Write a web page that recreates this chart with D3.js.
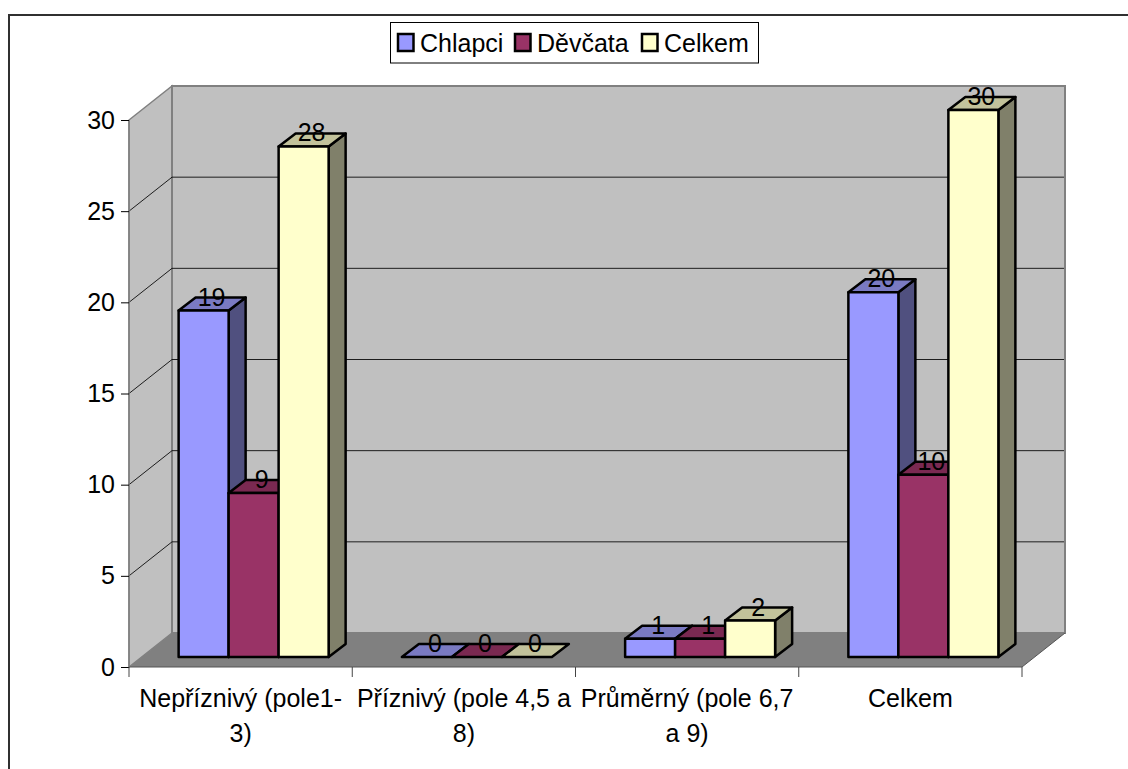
<!DOCTYPE html>
<html>
<head>
<meta charset="utf-8">
<script src="https://cdn.jsdelivr.net/npm/d3@7"></script>
<style>
  html, body { margin: 0; padding: 0; background: #fff; overflow: hidden; }
  text { font-family: "Liberation Sans", Arial, sans-serif; fill: #000; }
</style>
</head>
<body>
<svg id="chart" width="1128" height="769"></svg>
<script>
// values
const categories = ["Nepříznivý (pole1-3)", "Příznivý (pole 4,5 a 8)", "Průměrný (pole 6,7 a 9)", "Celkem"];
const categoryLines = [["Nepříznivý (pole1-", "3)"], ["Příznivý (pole 4,5 a", "8)"], ["Průměrný (pole 6,7", "a 9)"], ["Celkem"]];
const seriesNames = ["Chlapci", "Děvčata", "Celkem"];
const chlapci = [19, 0, 1, 20];
const devcata = [9, 0, 1, 10];
const celkem = [28, 0, 2, 30];
const seriesValues = [chlapci, devcata, celkem];
const yTicks = [0, 5, 10, 15, 20, 25, 30];

// settings
const fills = ["#9999ff", "#993366", "#ffffcc"];
const tops = ["#7a7ac2", "#7a2951", "#c2c29b"];
const sides = ["#50507f", "#50223a", "#80806a"];
const depth = { x: 43, y: 34 };     // floor depth of the fake 3d box
const barDepth = { x: 17, y: 13 };  // depth of a single bar
const barInset = { x: 13, y: 10 };  // bar front sits this far behind the axis plane
const fontSize = 25;

const x = d3.scaleBand().domain(categories).range([129, 1022]);
const y = d3.scaleLinear().domain([0, 30]).range([667, 120]);
const xInner = d3.scaleBand().domain(d3.range(seriesNames.length)).range([0, 150]);

const svg = d3.select("#chart");
const poly = pts => pts.map(p => p.join(",")).join(" ");
const x0 = x.range()[0], x1 = x.range()[1];

// outer frame, only top and left are inside the picture
svg.append("path").attr("d", "M9,769V15H1128")
  .attr("fill", "none").attr("stroke", "#303030").attr("stroke-width", 2);

// walls
svg.append("polygon").attr("points", poly([[x0, y(30)], [x0 + depth.x, y(30) - depth.y], [x0 + depth.x, y(0) - depth.y], [x0, y(0)]]))
  .attr("fill", "#c0c0c0").attr("stroke", "#808080").attr("stroke-width", 1.5);
svg.append("rect").attr("x", x0 + depth.x).attr("y", y(30) - depth.y)
  .attr("width", x1 - x0).attr("height", y(0) - y(30))
  .attr("fill", "#c0c0c0").attr("stroke", "#808080").attr("stroke-width", 2);
svg.append("polygon").attr("points", poly([[x0, y(0)], [x0 + depth.x, y(0) - depth.y], [x1 + depth.x, y(0) - depth.y], [x1, y(0)]]))
  .attr("fill", "#808080");

// gridlines along side wall and back wall
const grid = svg.append("g").attr("stroke", "#000").attr("fill", "none");
yTicks.filter(d => d > 0 && d < 30).forEach(d => {
  grid.append("path")
    .attr("d", `M${x0},${y(d)}L${x0 + depth.x},${y(d) - depth.y}H${x1 + depth.x - 1}`)
    .attr("stroke-opacity", 0.85);
});

// axes
svg.append("path").attr("d", `M${x0},${y(30)}V${y(0)}`).attr("stroke", "#808080").attr("stroke-width", 1.5);
svg.append("path").attr("d", `M${x0},${y(0)}H${x1}L${x1 + depth.x},${y(0) - depth.y}`).attr("stroke", "#555").attr("fill", "none").attr("stroke-width", 1);

const yAxis = svg.append("g").attr("transform", `translate(${x0},0)`)
  .call(d3.axisLeft(y).tickValues(yTicks).tickSize(8).tickPadding(6));
yAxis.select(".domain").remove();
yAxis.selectAll("line").attr("stroke", "#000");
yAxis.selectAll("text").style("font-size", fontSize + "px");

// category ticks and wrapped labels
const tickPos = categories.map(c => x(c)).concat([x1]);
svg.selectAll(".xtick").data(tickPos).join("line").attr("class", "xtick")
  .attr("x1", d => d).attr("x2", d => d).attr("y1", y(0)).attr("y2", y(0) + 10)
  .attr("stroke", "#444");

categories.forEach((c, i) => {
  const t = svg.append("text").attr("text-anchor", "middle").style("font-size", fontSize + "px")
    .attr("x", x(c) + x.bandwidth() / 2);
  categoryLines[i].forEach((line, j) => {
    t.append("tspan").attr("x", x(c) + x.bandwidth() / 2).attr("y", 707 + j * 35).text(line);
  });
});

// bars, drawn group by group
categories.forEach((c, ci) => {
  const groupLeft = x(c) + (x.bandwidth() - 150) / 2 + barInset.x;
  seriesNames.forEach((s, si) => {
    const v = seriesValues[si][ci];
    const bx = groupLeft + xInner(si), bw = xInner.bandwidth();
    const by = y(v) - barInset.y, base = y(0) - barInset.y;
    const g = svg.append("g").attr("stroke", "#000").attr("stroke-width", 2.5).attr("stroke-linejoin", "round");
    if (v > 0) {
      g.append("polygon").attr("fill", sides[si])
        .attr("points", poly([[bx + bw, by], [bx + bw + barDepth.x, by - barDepth.y], [bx + bw + barDepth.x, base - barDepth.y], [bx + bw, base]]));
    }
    g.append("polygon").attr("fill", tops[si])
      .attr("points", poly([[bx, by], [bx + barDepth.x, by - barDepth.y], [bx + bw + barDepth.x, by - barDepth.y], [bx + bw, by]]));
    if (v > 0) {
      g.append("rect").attr("fill", fills[si]).attr("x", bx).attr("y", by).attr("width", bw).attr("height", base - by);
    }
  });
  // labels go on top of every bar in the group
  seriesNames.forEach((s, si) => {
    const v = seriesValues[si][ci];
    svg.append("text").attr("text-anchor", "middle").style("font-size", fontSize + "px")
      .attr("x", groupLeft + xInner(si) + xInner.bandwidth() / 2 + 8)
      .attr("y", y(v) - barInset.y - 5)
      .text(v);
  });
});

// legend
const legend = svg.append("g");
legend.append("rect").attr("x", 390.5).attr("y", 22.5).attr("width", 368).attr("height", 40.5)
  .attr("fill", "#fff").attr("stroke", "#000");
const legendX = [398, 515, 642];
seriesNames.forEach((s, i) => {
  legend.append("rect").attr("x", legendX[i]).attr("y", 34).attr("width", 15.5).attr("height", 17)
    .attr("fill", fills[i]).attr("stroke", "#000").attr("stroke-width", 2.5);
  legend.append("text").attr("x", legendX[i] + 22).attr("y", 51.5).style("font-size", fontSize + "px").text(s);
});
</script>
</body>
</html>
